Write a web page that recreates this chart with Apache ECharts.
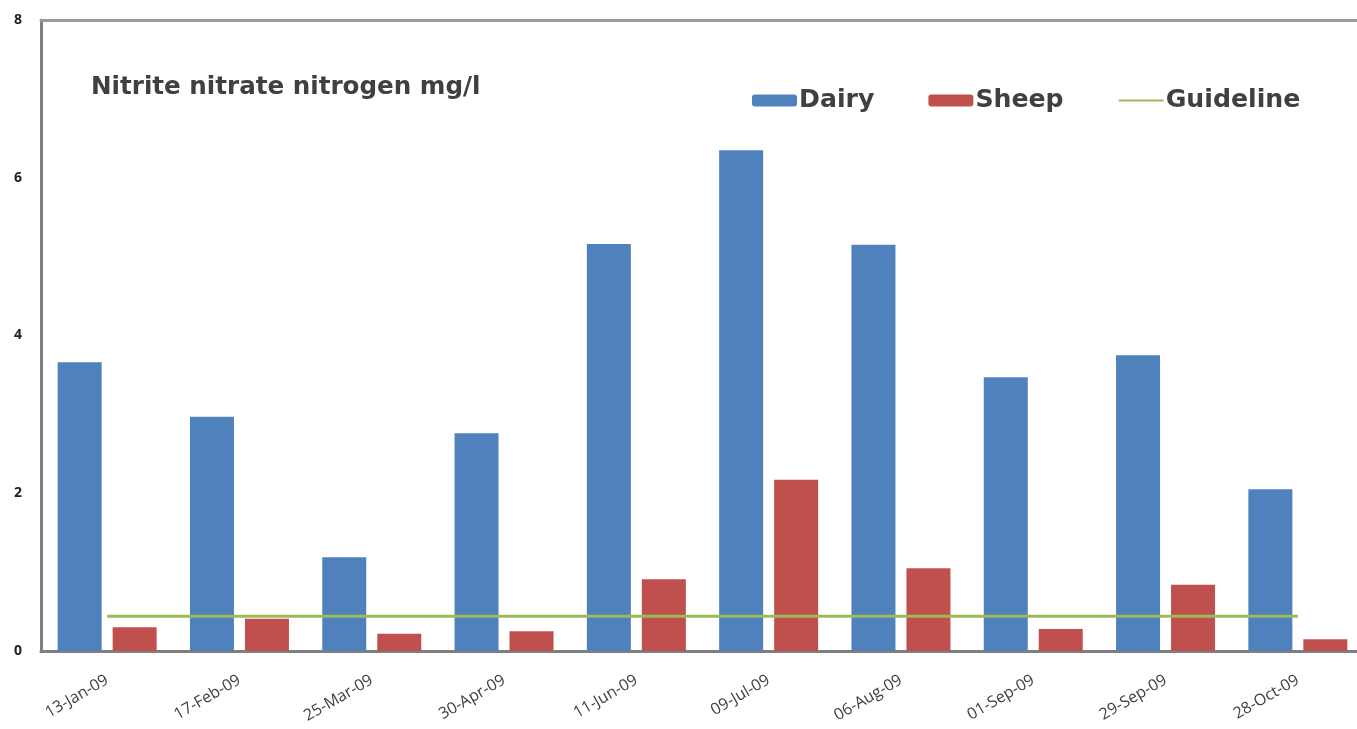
<!DOCTYPE html>
<html>
<head>
<meta charset="utf-8">
<script src="https://cdn.jsdelivr.net/npm/echarts@6/dist/echarts.min.js"></script>
<style>
html,body{margin:0;padding:0;background:#fff;overflow:hidden;width:1357px;height:729px;}
#chart{width:1372px;height:729px;}
</style>
</head>
<body>
<div id="chart"></div>
<script>
const categories = ['13-Jan-09','17-Feb-09','25-Mar-09','30-Apr-09','11-Jun-09','09-Jul-09','06-Aug-09','01-Sep-09','29-Sep-09','28-Oct-09'];
const dairy = [3.66, 2.97, 1.19, 2.76, 5.16, 6.35, 5.15, 3.47, 3.75, 2.05];
const sheep = [0.30, 0.41, 0.22, 0.25, 0.91, 2.17, 1.05, 0.28, 0.84, 0.15];
const guideline = [0.44, 0.44, 0.44, 0.44, 0.44, 0.44, 0.44, 0.44, 0.44, 0.44];
const yTicks = [0, 2, 4, 6, 8];
const titleText = 'Nitrite nitrate nitrogen mg/l';

const chart = echarts.init(document.getElementById('chart'));
chart.setOption({
  animation: false,
  backgroundColor: '#fff',
  title: {
    text: titleText,
    left: 86, top: 70,
    textStyle: {fontFamily: 'DejaVu Sans', fontWeight: 'bold', fontSize: 24.6, color: '#404040'}
  },
  legend: {
    left: 752, top: 88, padding: 0,
    itemWidth: 45, itemHeight: 12, itemGap: 54,
    data: ['Dairy', 'Sheep', {name: 'Guideline', itemStyle: {opacity: 0}}],
    textStyle: {fontFamily: 'DejaVu Sans', fontWeight: 'bold', fontSize: 25.2, color: '#404040', padding: [0,0,0,-3]}
  },
  grid: {
    left: 41, top: 20, width: 1323, height: 631, containLabel: false
  },
  xAxis: [{
    type: 'category',
    data: categories,
    boundaryGap: true,
    axisLine: {lineStyle: {color: '#7f7f7f', width: 3}},
    axisTick: {show: false},
    axisLabel: {rotate: 30, margin: 28, fontFamily: 'Open Sans', fontSize: 16, color: '#404040', interval: 0}
  }, {
    type: 'category',
    position: 'top',
    data: categories,
    axisLine: {show: true, lineStyle: {color: '#999', width: 3}},
    axisTick: {show: false},
    axisLabel: {show: false}
  }],
  yAxis: {
    type: 'value',
    min: yTicks[0], max: yTicks[yTicks.length-1], interval: 2,
    axisLine: {show: true, lineStyle: {color: '#7f7f7f', width: 3}},
    axisTick: {show: false},
    splitLine: {show: false},
    axisLabel: {margin: 19, fontFamily: 'Open Sans', fontWeight: 'bold', fontSize: 14, color: '#222'}
  },
  series: [
    {name: 'Dairy', type: 'bar', data: dairy, barWidth: 44, barGap: '25%', itemStyle: {color: '#4f81bd'}},
    {name: 'Sheep', type: 'bar', data: sheep, barWidth: 44, barGap: '25%', itemStyle: {color: '#c0504d'}},
    {name: 'Guideline', type: 'line', data: guideline, symbol: 'none', lineStyle: {color: '#9bbb59', width: 3}, itemStyle: {color: '#9bbb59'}, z: 5}
  ]
});
</script>
</body>
</html>
